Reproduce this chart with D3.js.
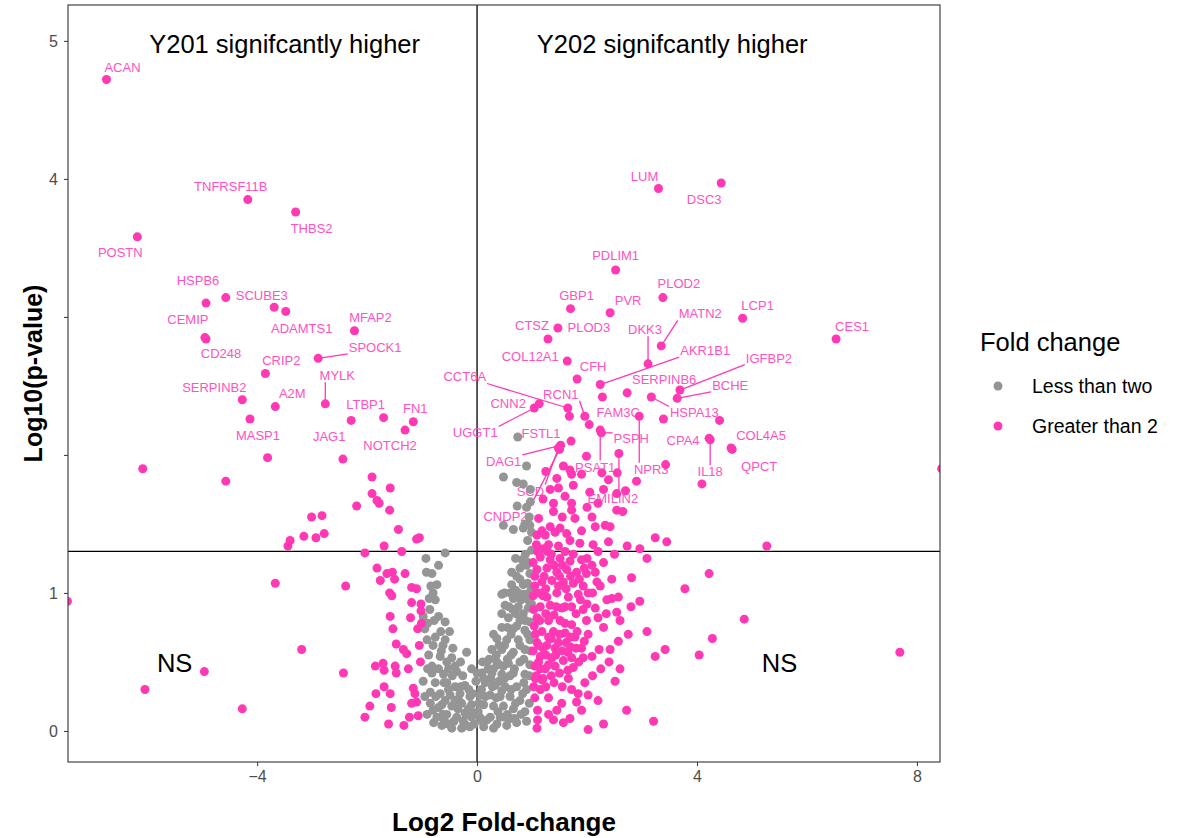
<!DOCTYPE html>
<html>
<head>
<meta charset="utf-8">
<script src="https://cdn.jsdelivr.net/npm/d3@7"></script>
<style>
  body { margin: 0; background: #fff; }
  text { font-family: "Liberation Sans", Arial, sans-serif; }
</style>
</head>
<body>
<div id="G"></div>
<script>
// labelled genes: name, log2 fold-change, -log10 p
var genes = [
  ["ACAN", -6.74, 4.72], ["TNFRSF11B", -4.17, 3.85], ["THBS2", -3.30, 3.76], ["POSTN", -6.18, 3.58],
  ["HSPB6", -4.93, 3.10], ["SCUBE3", -4.57, 3.14], ["ADAMTS1", -3.48, 3.04], ["CEMIP", -4.95, 2.85],
  ["CD248", -4.93, 2.84], ["MFAP2", -2.23, 2.90], ["SPOCK1", -2.89, 2.70], ["CRIP2", -3.85, 2.59],
  ["MYLK", -2.76, 2.37], ["SERPINB2", -4.27, 2.40], ["A2M", -3.67, 2.35], ["MASP1", -4.13, 2.26],
  ["LTBP1", -1.70, 2.27], ["JAG1", -2.29, 2.25], ["FN1", -1.16, 2.24], ["NOTCH2", -1.31, 2.18],
  ["LUM", 3.30, 3.93], ["DSC3", 4.44, 3.97], ["PDLIM1", 2.52, 3.34], ["PLOD2", 3.38, 3.14],
  ["GBP1", 1.70, 3.06], ["PVR", 2.42, 3.03], ["LCP1", 4.83, 2.99], ["CTSZ", 1.29, 2.84],
  ["PLOD3", 1.47, 2.92], ["MATN2", 3.35, 2.79], ["DKK3", 3.11, 2.66], ["COL12A1", 1.64, 2.68],
  ["CFH", 1.82, 2.55], ["AKR1B1", 2.24, 2.51], ["IGFBP2", 3.69, 2.47], ["BCHE", 3.64, 2.41],
  ["SERPINB6", 2.73, 2.45], ["HSPA13", 3.17, 2.42], ["CCT6A", 1.65, 2.34], ["RCN1", 1.96, 2.28],
  ["CNN2", 1.13, 2.37], ["UGGT1", 1.04, 2.34], ["FAM3C", 2.04, 2.22], ["NPR3", 2.95, 2.28],
  ["PSPH", 2.26, 2.16], ["PSAT1", 2.24, 2.18], ["EMILIN2", 2.58, 2.01], ["FSTL1", 1.71, 2.10],
  ["DAG1", 1.52, 2.07], ["SCD", 1.48, 2.05], ["CNDP2", 1.50, 2.04], ["CPA4", 4.22, 2.12],
  ["IL18", 4.24, 2.11], ["COL4A5", 4.62, 2.05], ["QPCT", 4.64, 2.04], ["CES1", 6.53, 2.84]
];

// unlabelled genes, Y201 side
var leftSide = [
  [-3.69, 3.07], [-2.44, 1.97], [-3.81, 1.98], [-6.08, 1.90], [-4.57, 1.81], [-7.45, 0.94],
  [-6.04, 0.30], [-4.96, 0.43], [-4.27, 0.16], [-3.67, 1.07], [-2.39, 1.05], [-3.19, 0.59], [-2.43, 0.42],
  [-1.91, 1.84], [-1.58, 1.76], [-1.91, 1.72], [-1.82, 1.67], [-1.78, 1.65], [-2.19, 1.63], [-1.59, 1.60],
  [-3.01, 1.55], [-2.82, 1.56], [-1.43, 1.46], [-3.15, 1.41], [-2.93, 1.40], [-2.78, 1.43], [-3.40, 1.38],
  [-3.44, 1.34], [-1.10, 1.39], [-1.05, 1.40], [-1.69, 1.34], [-1.37, 1.30], [-2.04, 1.29], [-1.82, 1.18],
  [-1.64, 1.14], [-1.54, 1.15], [-1.76, 1.09], [-1.50, 1.10], [-1.31, 1.14], [-1.19, 1.04], [-1.10, 1.03],
  [-1.59, 1.00], [-1.55, 0.98], [-1.19, 0.93], [-1.02, 0.92], [-1.02, 0.87], [-1.58, 0.83], [-1.21, 0.82],
  [-1.53, 0.74], [-1.08, 0.74], [-1.01, 0.78], [-1.47, 0.63], [-1.34, 0.59], [-1.28, 0.56], [-1.85, 0.47],
  [-1.71, 0.49], [-1.69, 0.44], [-1.49, 0.47], [-1.47, 0.42], [-1.25, 0.45], [-1.69, 0.32], [-1.16, 0.31],
  [-1.13, 0.27], [-1.84, 0.27], [-1.58, 0.27], [-1.19, 0.20], [-1.10, 0.21], [-1.95, 0.18], [-1.56, 0.17],
  [-2.04, 0.10], [-1.61, 0.05], [-1.33, 0.04], [-1.23, 0.10], [-1.07, 0.11], [-1.03, 0.50], [-1.05, 0.62]
];

// genes under two-fold either way
var nsCore = [
  [-0.93, 1.25], [-0.58, 1.29], [-0.70, 1.20], [-0.82, 1.14], [-0.73, 1.06], [-0.87, 0.96], [-0.76, 0.95],
  [-0.98, 0.83], [-0.70, 0.83], [-0.58, 0.79], [-0.95, 0.74], [-0.50, 0.72], [-0.91, 0.66], [-0.76, 0.68],
  [-0.58, 0.66], [-0.44, 0.60], [-0.19, 0.57], [-0.88, 0.55], [-0.67, 0.54], [-0.46, 0.53], [-0.82, 0.47],
  [-0.70, 0.45], [-0.37, 0.43], [-0.82, 0.42], [-0.61, 0.41], [-0.98, 0.36], [-0.76, 0.35], [-0.55, 0.35],
  [-0.40, 0.32], [-0.22, 0.33], [-0.67, 0.27], [-0.49, 0.26], [-0.31, 0.27], [-0.13, 0.25], [-0.85, 0.20],
  [-0.64, 0.19], [-0.46, 0.18], [-0.28, 0.20], [-0.10, 0.19], [-0.91, 0.12], [-0.73, 0.10], [-0.55, 0.12],
  [-0.37, 0.10], [-0.19, 0.12], [-0.64, 0.04], [-0.46, 0.02], [-0.28, 0.02], [-0.13, 0.03], [-0.79, 0.06],
  [-0.25, 0.07], [-0.05, 0.05], [-0.16, 0.16], [-0.34, 0.23], [-0.52, 0.30], [-0.62, 0.62], [-0.86, 0.88],
  [-0.80, 1.00], [-0.66, 0.72], [-0.40, 0.47], [-0.05, 0.13], [-0.60, 0.08], [-0.42, 0.07],
  [-0.85, 0.28], [-0.70, 0.17], [-0.52, 0.05], [-0.35, 0.16], [-0.20, 0.04], [-0.08, 0.27], [-0.02, 0.36],
  [-0.26, 0.40], [-0.45, 0.40], [-0.60, 0.35], [-0.90, 0.45], [-0.52, 0.45], [-0.65, 0.58], [-0.80, 0.62],
  [-0.55, 0.50], [-0.90, 0.78], [-0.78, 0.80], [-0.84, 1.05], [-0.92, 1.15],
  [-0.10, 0.10], [-0.22, 0.13], [-0.40, 0.22], [-0.58, 0.22], [-0.75, 0.25], [-0.30, 0.32], [-0.15, 0.30],
  [-0.62, 0.12], [-0.80, 0.15], [-0.95, 0.25], [-0.10, 0.45], [-0.30, 0.50],
  [0.78, 1.18], [0.90, 1.20], [0.96, 1.14], [0.72, 1.12], [0.63, 1.06], [0.84, 1.06], [0.45, 0.99],
  [0.66, 0.96], [0.90, 0.99], [0.51, 0.91], [0.75, 0.90], [0.93, 0.89], [0.57, 0.82], [0.78, 0.80],
  [0.96, 0.79], [0.66, 0.74], [0.87, 0.73], [0.36, 0.67], [0.54, 0.66], [0.75, 0.66], [0.96, 0.66],
  [0.27, 0.59], [0.45, 0.59], [0.66, 0.57], [0.87, 0.59], [0.18, 0.50], [0.36, 0.50], [0.57, 0.49],
  [0.78, 0.50], [0.96, 0.48], [0.09, 0.42], [0.27, 0.42], [0.45, 0.41], [0.66, 0.42], [0.87, 0.41],
  [0.15, 0.35], [0.33, 0.33], [0.51, 0.32], [0.72, 0.32], [0.90, 0.30], [0.05, 0.26], [0.24, 0.26],
  [0.42, 0.25], [0.60, 0.25], [0.78, 0.22], [0.12, 0.19], [0.30, 0.18], [0.48, 0.18], [0.66, 0.16],
  [0.87, 0.14], [0.05, 0.10], [0.24, 0.10], [0.42, 0.10], [0.60, 0.09], [0.90, 0.07], [0.12, 0.03],
  [0.30, 0.02], [0.54, 0.04], [0.72, 0.06], [0.02, 0.14], [0.08, 0.30], [0.20, 0.45], [0.35, 0.55],
  [0.50, 0.62], [0.62, 0.70], [0.70, 0.85], [0.80, 0.95], [0.60, 1.00], [0.70, 1.02], [0.82, 1.24],
  [0.88, 1.28], [0.92, 1.38], [0.95, 1.55], [0.90, 1.62], [0.97, 1.75], [0.84, 0.85], [0.72, 0.76],
  [0.93, 0.95], [0.98, 1.02], [0.40, 0.36], [0.55, 0.52], [0.97, 0.58], [0.99, 1.31], [0.90, 1.92],
  [0.48, 1.84], [0.72, 1.80], [0.84, 1.79], [0.73, 1.63], [0.48, 1.49], [0.66, 1.46], [0.84, 1.47],
  [0.96, 1.49], [0.87, 1.50], [0.99, 1.44], [0.74, 2.13], [0.97, 1.66], [0.93, 1.22], [0.99, 0.92],
  [0.03, 0.20], [0.18, 0.08], [0.36, 0.05], [0.38, 0.14], [0.55, 0.12], [0.68, 0.09], [0.80, 0.12],
  [0.95, 0.20], [0.83, 0.27], [0.62, 0.30], [0.45, 0.29], [0.28, 0.32], [0.12, 0.38], [0.30, 0.45],
  [0.48, 0.47], [0.68, 0.45], [0.85, 0.52], [0.22, 0.52], [0.40, 0.62], [0.62, 0.55], [0.78, 0.62],
  [0.92, 0.70], [0.55, 0.75], [0.65, 0.88], [0.85, 0.99], [0.78, 1.10], [0.92, 1.07], [0.75, 1.00],
  [0.88, 0.80], [0.50, 0.38], [0.15, 0.25], [0.10, 0.07], [0.00, 0.42], [0.10, 0.50], [0.25, 0.38],
  [0.35, 0.24], [0.50, 0.10], [0.70, 0.20], [0.85, 0.35], [0.95, 0.40], [0.60, 0.40], [0.40, 0.48],
  [0.30, 0.70], [0.45, 0.75], [0.58, 0.90], [0.45, 0.85], [0.50, 1.00], [0.63, 1.15], [0.70, 1.25]
];

// unlabelled genes, Y202 side
var rightSide = [
  [8.45, 1.90], [1.99, 1.99], [1.25, 1.88], [1.57, 1.92], [1.69, 1.89], [1.45, 1.83], [1.72, 1.86],
  [1.90, 1.86], [2.27, 1.87], [2.39, 1.82], [2.55, 1.87], [2.90, 1.81], [1.33, 1.75], [1.48, 1.76],
  [1.75, 1.78], [2.05, 1.73], [2.30, 1.75], [2.54, 1.72], [1.39, 1.65], [1.72, 1.65], [1.72, 1.60],
  [1.39, 1.59], [2.09, 1.55], [2.54, 1.60], [2.65, 1.59], [1.12, 1.54], [1.78, 1.54], [1.33, 1.48],
  [1.51, 1.47], [2.15, 1.48], [2.33, 1.49], [2.42, 1.48], [1.09, 1.42], [1.24, 1.42], [1.42, 1.44],
  [1.63, 1.43], [1.69, 1.38], [1.87, 1.36], [2.11, 1.35], [2.39, 1.37], [2.73, 1.34], [2.96, 1.32],
  [3.24, 1.40], [1.30, 1.35], [1.48, 1.34], [3.45, 1.37], [5.27, 1.34], [2.70, 1.74], [3.43, 1.93],
  [4.09, 1.79], [2.28, 2.42], [1.68, 2.28], [3.39, 2.26], [4.41, 2.25],
  [3.09, 1.25], [2.81, 1.11], [2.96, 0.94], [3.09, 0.72], [2.75, 0.70], [2.57, 0.65], [2.42, 0.59],
  [2.22, 0.59], [2.09, 0.54], [1.93, 0.53], [2.25, 0.45], [2.51, 0.36], [3.24, 0.54], [2.72, 0.15],
  [3.21, 0.07], [2.30, 0.05], [2.02, 0.01], [1.57, 0.06], [1.39, 0.08], [1.69, 0.09], [1.09, 0.02],
  [1.84, 0.27], [2.02, 0.26], [1.81, 0.21], [1.96, 0.35], [1.66, 0.38], [1.15, 0.30], [1.30, 0.24],
  [1.18, 0.37], [4.22, 1.14], [3.78, 1.03], [4.86, 0.81], [4.28, 0.67], [4.04, 0.55], [3.42, 0.59],
  [7.69, 0.57], [1.15, 1.26], [1.33, 1.24], [1.51, 1.25], [1.69, 1.23], [1.90, 1.24], [2.09, 1.20],
  [1.09, 1.17], [1.27, 1.18], [1.45, 1.15], [1.63, 1.17], [1.81, 1.15], [1.99, 1.14], [2.18, 1.08],
  [2.24, 1.05], [1.18, 1.08], [1.36, 1.09], [1.57, 1.08], [1.75, 1.07], [1.93, 1.05], [1.09, 1.00],
  [1.27, 0.97], [1.45, 1.00], [1.66, 0.97], [1.84, 0.99], [2.02, 1.00], [2.36, 0.95], [2.45, 0.96],
  [2.57, 0.97], [2.54, 0.86], [1.15, 0.90], [1.33, 0.91], [1.54, 0.89], [1.72, 0.90], [1.93, 0.88],
  [2.15, 0.89], [1.09, 0.82], [1.30, 0.80], [1.51, 0.80], [1.72, 0.77], [1.99, 0.80], [2.02, 0.70],
  [1.18, 0.72], [1.39, 0.72], [1.60, 0.71], [1.78, 0.68], [1.09, 0.64], [1.27, 0.62], [1.48, 0.64],
  [1.69, 0.61], [1.90, 0.60], [1.15, 0.54], [1.36, 0.53], [1.57, 0.51], [1.72, 0.53], [1.05, 0.47],
  [1.24, 0.45], [1.42, 0.47], [1.20, 0.38], [1.05, 0.24], [1.54, 0.20], [1.02, 1.22], [1.05, 1.05],
  [1.03, 0.88], [1.06, 0.70], [1.02, 0.58], [1.08, 0.40], [1.03, 0.32], [1.10, 0.15], [1.12, 0.62],
  [1.20, 0.98], [1.22, 1.12], [1.25, 0.85], [1.35, 0.67], [1.44, 0.90], [1.50, 1.12], [1.60, 0.90],
  [1.55, 0.58], [1.80, 0.85], [1.85, 0.50], [1.65, 0.44], [1.40, 0.35], [1.25, 0.55], [1.12, 0.50],
  [1.28, 1.30], [1.60, 1.30], [2.00, 1.25], [2.30, 1.22], [2.20, 1.30], [2.45, 1.10], [2.30, 0.75],
  [2.60, 0.80], [2.50, 1.28], [1.05, 1.12], [1.02, 0.98], [1.04, 0.76], [1.14, 0.80], [1.16, 1.00],
  [1.40, 1.20], [1.62, 1.03], [1.86, 1.10], [2.00, 0.92], [1.42, 0.60], [1.62, 0.64], [1.20, 1.32],
  [1.10, 1.30], [1.35, 1.28], [1.55, 1.20], [1.75, 1.28], [1.95, 1.18], [2.15, 1.15], [1.25, 1.03],
  [1.48, 1.05], [1.70, 1.12], [1.88, 0.95], [2.10, 1.00], [2.20, 0.82], [1.40, 0.84], [1.60, 0.78],
  [1.82, 0.72], [1.95, 0.65], [1.30, 0.68], [1.50, 0.70], [1.70, 0.68], [1.20, 0.60], [1.43, 0.55],
  [1.65, 0.57], [1.80, 0.60], [1.30, 0.48], [1.50, 0.42], [1.75, 0.46], [1.35, 0.40], [1.15, 0.45],
  [1.06, 0.38], [1.25, 0.32], [1.55, 0.32], [1.72, 0.30], [1.10, 0.08], [1.30, 0.12], [1.90, 0.15],
  [2.20, 0.22], [1.45, 0.15], [2.40, 0.50], [2.60, 0.45], [2.35, 0.85], [2.80, 0.90], [2.10, 0.40],
  [1.08, 1.35], [1.18, 1.45], [1.55, 1.55], [1.90, 1.45], [2.00, 1.62], [1.60, 1.70], [1.20, 1.68],
  [2.20, 1.65]
];

var xTicks = [-4, 0, 4, 8];
var yTicks = [0, 1, 2, 3, 4, 5];
var yTickText = ["0", "1", "", "", "4", "5"];
var legendLabels = ["Less than two", "Greater than 2"];

// label placement in px (text centre relative to point) and whether a leader line is drawn
var labelPos = {
  ACAN: [16, -12], TNFRSF11B: [-17, -13], THBS2: [16, 16], POSTN: [-17, 16], HSPB6: [-8, -23],
  SCUBE3: [36, -2], ADAMTS1: [16, 17], CEMIP: [-17, -18], CD248: [15, 15], MFAP2: [16, -13],
  SPOCK1: [57, -11, 1], CRIP2: [16, -13], MYLK: [12, -28, 1], SERPINB2: [-28, -12], A2M: [17, -13],
  MASP1: [8, 16], LTBP1: [-18, -13], JAG1: [-22, 16], FN1: [2, -13], NOTCH2: [-15, 15],
  LUM: [-14, -12], DSC3: [-17, 16], PDLIM1: [0, -14], PLOD2: [16, -14], GBP1: [6, -13], PVR: [18, -12],
  LCP1: [15, -13], CTSZ: [-16, -13], PLOD3: [31, 0], MATN2: [39, -32, 1], DKK3: [-3, -34, 1],
  COL12A1: [-37, -5], CFH: [16, -13], AKR1B1: [105, -34, 1], IGFBP2: [89, -32, 1], BCHE: [53, -13, 1],
  SERPINB6: [37, -13], HSPA13: [43, 16, 1], CCT6A: [-103, -31, 1], RCN1: [-24, -22, 1], CNN2: [-31, 0],
  UGGT1: [-59, 25, 1], FAM3C: [29, -12], NPR3: [12, 53, 1], PSPH: [30, 6, 1], PSAT1: [-5, 37, 1],
  EMILIN2: [-6, 45, 1], FSTL1: [-30, -8], DAG1: [-57, 16, 1], SCD: [-28, 43, 1], CNDP2: [-54, 67, 1],
  CPA4: [-26, 2], IL18: [0, 32, 1], COL4A5: [30, -13], QPCT: [27, 17], CES1: [16, -12]
};

var pink = "#ff38b4", grey = "#959595";

var Border = { top: 5, right: 238, bottom: 76, left: 68 },
  width = 1178 - Border.left - Border.right,
  height = 838 - Border.top - Border.bottom;

var svg = d3.select("#G").append("svg")
  .attr("width", 1178).attr("height", 838)
  .append("g")
  .attr("transform", "translate(" + Border.left + "," + Border.top + ")");

var x = d3.scaleLinear().domain([-7.44, 8.42]).range([0, width]);
var y = d3.scaleLinear().domain([-0.225, 5.26]).range([height, 0]);

svg.append("defs").append("clipPath").attr("id", "clip")
  .append("rect").attr("width", width).attr("height", height);

// axes
var xAxis = svg.append("g").attr("transform", "translate(0," + height + ")")
  .call(d3.axisBottom(x).tickValues(xTicks).tickSize(4).tickPadding(5));
var yAxis = svg.append("g")
  .call(d3.axisLeft(y).tickValues(yTicks).tickFormat((d, i) => yTickText[i]).tickSize(4).tickPadding(6));
[xAxis, yAxis].forEach(function (a) {
  a.select(".domain").remove();
  a.selectAll("line").attr("stroke", "#333");
  a.selectAll("text").attr("fill", "#4d4d4d").style("font-size", "16px")
    .style("font-family", "Liberation Sans, Arial, sans-serif");
});

// reference lines
svg.append("line").attr("x1", 0).attr("x2", width)
  .attr("y1", y(-Math.log10(0.05))).attr("y2", y(-Math.log10(0.05)))
  .attr("stroke", "#000").attr("stroke-width", 1.3);
svg.append("line").attr("x1", x(0)).attr("x2", x(0)).attr("y1", 0).attr("y2", height)
  .attr("stroke", "#000").attr("stroke-width", 1.3);

// annotations
var notes = [["Y201 signifcantly higher", -3.5, 4.98], ["Y202 signifcantly higher", 3.55, 4.98],
  ["NS", -5.5, 0.49], ["NS", 5.5, 0.49]];
svg.selectAll(".note").data(notes).enter().append("text")
  .attr("x", d => x(d[1])).attr("y", d => y(d[2]) + 9)
  .attr("text-anchor", "middle").style("font-size", "25.5px")
  .attr("fill", "#000").text(d => d[0]);

// gene labels and leader lines, under the points
var lab = svg.append("g");
genes.forEach(function (g) {
  var px = x(g[1]), py = y(g[2]), o = labelPos[g[0]];
  var cx = px + o[0], cy = py + o[1];
  var t = lab.append("text").attr("x", cx).attr("y", cy + 4.5).attr("text-anchor", "middle")
    .style("font-size", "13px").attr("fill", "#ff52bd").text(g[0]);
  if (o[2]) {
    var w = t.node().getComputedTextLength() / 2 + 1, h = 6.5;
    var ex = Math.max(cx - w, Math.min(px, cx + w)), ey = Math.max(cy - h, Math.min(py, cy + h));
    lab.append("line").attr("x1", px).attr("y1", py).attr("x2", ex).attr("y2", ey)
      .attr("stroke", pink).attr("stroke-width", 1.3);
  }
});

// points
var all = nsCore.concat(leftSide, rightSide, genes.map(g => [g[1], g[2]]));
svg.append("g").attr("clip-path", "url(#clip)")
  .selectAll("circle").data(all).enter().append("circle")
  .attr("cx", d => x(d[0])).attr("cy", d => y(d[1])).attr("r", 4.5)
  .attr("fill", d => Math.abs(d[0]) < 1 ? grey : pink);

// panel border
svg.append("rect").attr("width", width).attr("height", height)
  .attr("fill", "none").attr("stroke", "#333").attr("stroke-width", 1.1);

// axis titles
svg.append("text").attr("x", width / 2).attr("y", height + 69).attr("text-anchor", "middle")
  .style("font-size", "26px").style("font-weight", "bold").text("Log2 Fold-change");
svg.append("text").attr("transform", "translate(-26," + (height / 2 - 10) + ") rotate(-90)")
  .attr("text-anchor", "middle").style("font-size", "25px").style("font-weight", "bold")
  .text("Log10(p-value)");

// legend
var leg = svg.append("g").attr("transform", "translate(" + (width + 40) + ",0)");
leg.append("text").attr("x", 0).attr("y", 346).style("font-size", "25.5px").text("Fold change");
leg.selectAll("circle").data(legendLabels).enter().append("circle")
  .attr("cx", 18).attr("cy", (d, i) => 381 + i * 40).attr("r", 4.5)
  .attr("fill", (d, i) => i ? pink : grey);
leg.selectAll(".lt").data(legendLabels).enter().append("text")
  .attr("x", 52).attr("y", (d, i) => 388 + i * 40).style("font-size", "19.5px").text(d => d);
</script>
</body>
</html>
